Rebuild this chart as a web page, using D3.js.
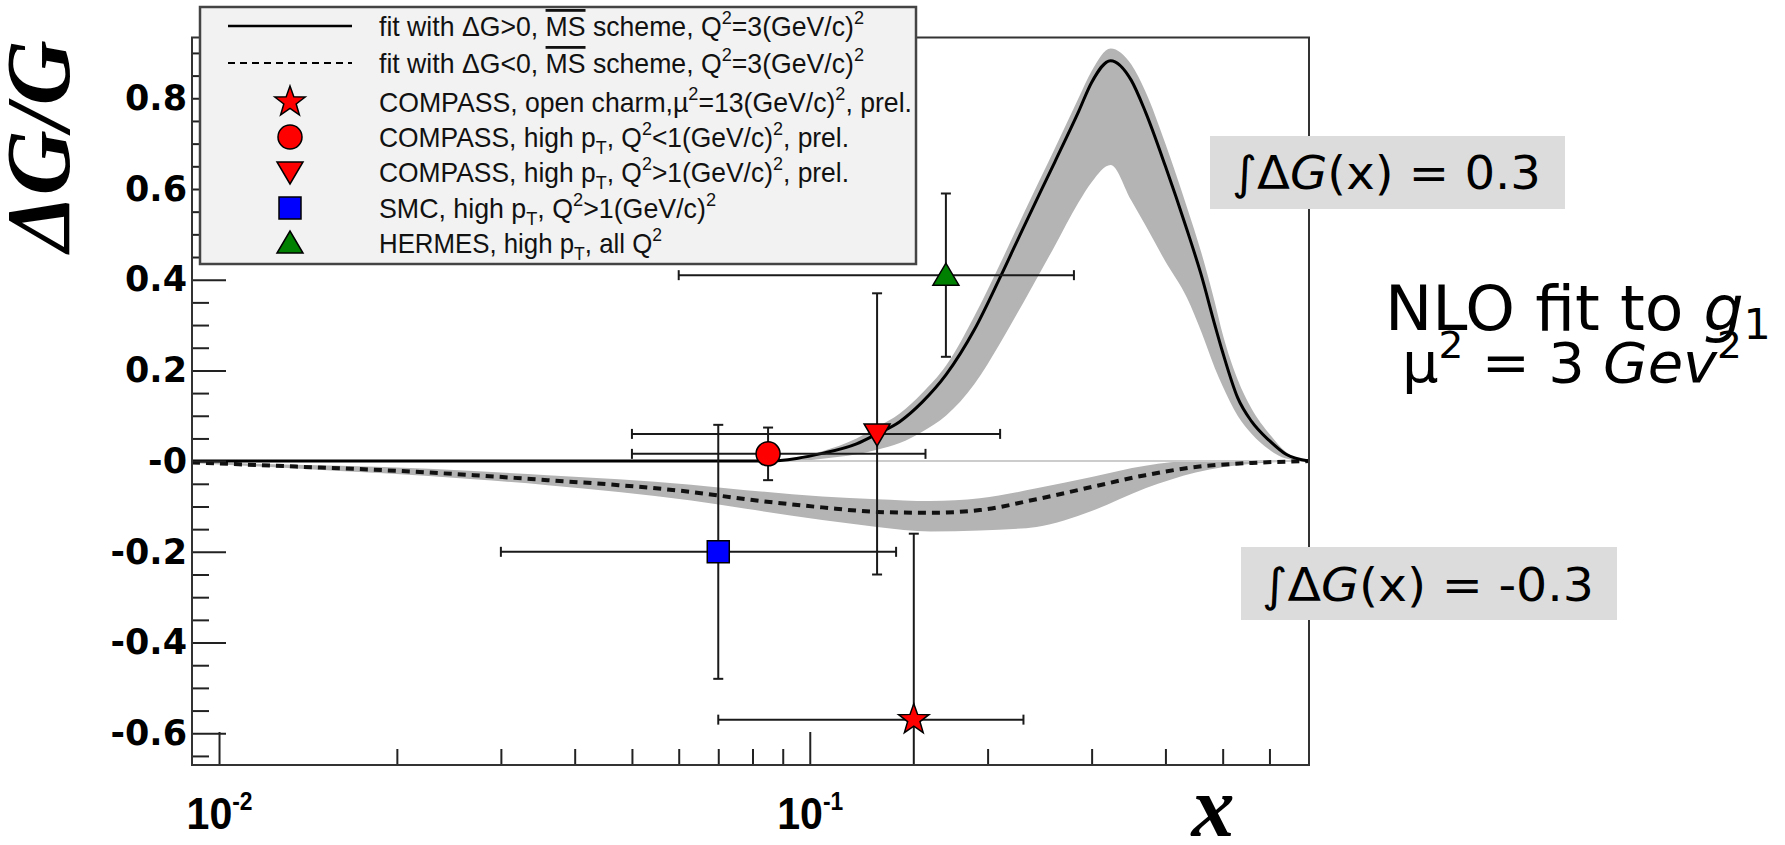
<!DOCTYPE html>
<html>
<head>
<meta charset="utf-8">
<script src="https://cdn.jsdelivr.net/npm/d3@7"></script>
<style>
  html, body { margin: 0; padding: 0; background: #fff; }
  svg { display: block; }
</style>
</head>
<body>
<div id="root"></div>
<script>
// fit with dG > 0 : central curve and band
const posX  = [0.009, 0.06, 0.085, 0.095, 0.105, 0.12, 0.13, 0.142, 0.155, 0.17, 0.19, 0.21, 0.23, 0.26, 0.285, 0.30, 0.323, 0.35, 0.37, 0.40, 0.435, 0.46, 0.485, 0.50, 0.53, 0.56, 0.60, 0.64, 0.70];
const posY  = [0, 0, 0, 0.006, 0.017, 0.038, 0.06, 0.087, 0.13, 0.19, 0.29, 0.405, 0.515, 0.66, 0.77, 0.835, 0.883, 0.84, 0.77, 0.65, 0.51, 0.41, 0.30, 0.24, 0.14, 0.087, 0.045, 0.015, 0];
const posLo = [0, 0, 0, 0, 0.005, 0.015, 0.025, 0.04, 0.065, 0.10, 0.17, 0.26, 0.35, 0.475, 0.57, 0.615, 0.653, 0.575, 0.52, 0.44, 0.36, 0.285, 0.205, 0.165, 0.10, 0.06, 0.025, 0.006, 0];
const posHi = [0, 0, 0, 0.008, 0.022, 0.05, 0.075, 0.105, 0.15, 0.21, 0.32, 0.435, 0.545, 0.69, 0.80, 0.86, 0.91, 0.875, 0.815, 0.70, 0.56, 0.46, 0.35, 0.28, 0.18, 0.115, 0.06, 0.02, 0];

// fit with dG < 0 : central curve and band
const negX  = [0.009, 0.0135, 0.019, 0.027, 0.036, 0.0475, 0.063, 0.078, 0.105, 0.13, 0.16, 0.194, 0.242, 0.30, 0.37, 0.45, 0.56, 0.70];
const negY  = [-0.003, -0.012, -0.02, -0.031, -0.042, -0.053, -0.068, -0.084, -0.102, -0.112, -0.114, -0.108, -0.084, -0.057, -0.031, -0.013, -0.004, 0];
const negLo = [-0.004, -0.016, -0.027, -0.04, -0.053, -0.068, -0.087, -0.105, -0.13, -0.145, -0.155, -0.153, -0.145, -0.11, -0.06, -0.025, -0.006, 0];
const negHi = [-0.002, -0.008, -0.013, -0.022, -0.031, -0.04, -0.052, -0.064, -0.078, -0.084, -0.088, -0.082, -0.06, -0.035, -0.01, 0, 0, 0];

// measurements
const pointShape = ["star", "circle", "tridown", "square", "triup"];
const pointX     = [0.15, 0.085, 0.13, 0.07, 0.17];
const pointY     = [-0.57, 0.016, 0.06, -0.20, 0.41];
const pointYErr  = [0.41, 0.058, 0.31, 0.28, 0.18];
const pointXLo   = [0.07, 0.05, 0.05, 0.03, 0.06];
const pointXHi   = [0.23, 0.157, 0.21, 0.14, 0.28];

// axes
const yMajor = [-0.6, -0.4, -0.2, 0, 0.2, 0.4, 0.6, 0.8];
const yTickLabels = ["-0.6", "-0.4", "-0.2", "-0", "0.2", "0.4", "0.6", "0.8"];
const yMinor = d3.range(-13, 19).map(k => k * 0.05).filter(v => Math.abs(v * 5 - Math.round(v * 5)) > 1e-6);
const xMajor = [0.01, 0.1];
const xTickExp = ["-2", "-1"];
const xMinor = [0.02, 0.03, 0.04, 0.05, 0.06, 0.07, 0.08, 0.09, 0.2, 0.3, 0.4, 0.5, 0.6];

// legend entries
const legendKinds = ["line", "dash", "star", "circle", "tridown", "square", "triup"];
const legendTexts = [
  [{t: "fit with \u0394G>0, "}, {t: "MS", over: true}, {t: " scheme, Q"}, {t: "2", sup: true}, {t: "=3(GeV/c)"}, {t: "2", sup: true}],
  [{t: "fit with \u0394G<0, "}, {t: "MS", over: true}, {t: " scheme, Q"}, {t: "2", sup: true}, {t: "=3(GeV/c)"}, {t: "2", sup: true}],
  [{t: "COMPASS, open charm,\u00b5"}, {t: "2", sup: true}, {t: "=13(GeV/c)"}, {t: "2", sup: true}, {t: ", prel."}],
  [{t: "COMPASS, high p"}, {t: "T", sub: true}, {t: ", Q"}, {t: "2", sup: true}, {t: "<1(GeV/c)"}, {t: "2", sup: true}, {t: ", prel."}],
  [{t: "COMPASS, high p"}, {t: "T", sub: true}, {t: ", Q"}, {t: "2", sup: true}, {t: ">1(GeV/c)"}, {t: "2", sup: true}, {t: ", prel."}],
  [{t: "SMC, high p"}, {t: "T", sub: true}, {t: ", Q"}, {t: "2", sup: true}, {t: ">1(GeV/c)"}, {t: "2", sup: true}],
  [{t: "HERMES, high p"}, {t: "T", sub: true}, {t: ", all Q"}, {t: "2", sup: true}]
];
const legendWidths = [485, 485, 533, 470, 470, 337, 283];

const W = 1785, H = 845;
const frame = {l: 192, r: 1309, t: 37.5, b: 765};

const svg = d3.select("#root").append("svg")
  .attr("width", W).attr("height", H)
  .attr("font-family", "'Liberation Sans', Arial, sans-serif");

const x = d3.scaleLog().domain([0.009, 0.7]).range([frame.l, frame.r]);
const y = d3.scaleLinear().domain([-0.67, 0.934]).range([frame.b, frame.t]);

svg.append("clipPath").attr("id", "plotclip")
  .append("rect")
  .attr("x", frame.l).attr("y", frame.t)
  .attr("width", frame.r - frame.l).attr("height", frame.b - frame.t);

const plot = svg.append("g").attr("clip-path", "url(#plotclip)");

const markerColor = {star: "#ff0000", circle: "#ff0000", tridown: "#ff0000", square: "#0000ff", triup: "#008000"};

function starPath(R, r) {
  const p = [];
  for (let k = 0; k < 10; k++) {
    const a = -Math.PI / 2 + k * Math.PI / 5;
    const rad = k % 2 ? r : R;
    p.push([rad * Math.cos(a), rad * Math.sin(a)]);
  }
  return "M" + p.map(q => q[0].toFixed(2) + "," + q[1].toFixed(2)).join("L") + "Z";
}
function markerPath(shape) {
  if (shape === "star") return starPath(16, 6.5);
  if (shape === "circle") return "M-12,0A12,12 0 1,0 12,0A12,12 0 1,0 -12,0Z";
  if (shape === "tridown") return "M-13,-10L13,-10L0,12Z";
  if (shape === "triup") return "M-13,10L13,10L0,-12Z";
  return "M-11,-11H11V11H-11Z";
}

// bands
const posData = posX.map((v, i) => ({x: v, y: posY[i], lo: posLo[i], hi: posHi[i]}));
const negData = negX.map((v, i) => ({x: v, y: negY[i], lo: negLo[i], hi: negHi[i]}));

const band = d3.area()
  .x(d => x(d.x)).y0(d => y(d.lo)).y1(d => y(d.hi))
  .curve(d3.curveMonotoneX);

plot.append("path").datum(negData).attr("d", band).attr("fill", "#b4b4b4");
plot.append("path").datum(posData).attr("d", band).attr("fill", "#b4b4b4");

// zero line
plot.append("line")
  .attr("x1", frame.l).attr("x2", frame.r)
  .attr("y1", y(0)).attr("y2", y(0))
  .attr("stroke", "#cccccc").attr("stroke-width", 2);

const curve = d3.line().x(d => x(d.x)).y(d => y(d.y)).curve(d3.curveMonotoneX);

plot.append("path").datum(negData).attr("d", curve)
  .attr("fill", "none").attr("stroke", "#111")
  .attr("stroke-width", 4).attr("stroke-dasharray", "8,6");

plot.append("path").datum(posData).attr("d", curve)
  .attr("fill", "none").attr("stroke", "#000").attr("stroke-width", 3);

// error bars
const pts = pointX.map((v, i) => ({
  shape: pointShape[i], x: v, y: pointY[i], ey: pointYErr[i], xlo: pointXLo[i], xhi: pointXHi[i]
}));

const eb = plot.append("g").attr("stroke", "#1a1a1a").attr("stroke-width", 2);
pts.forEach(p => {
  const cx = x(p.x), cy = y(p.y);
  const top = y(p.y + p.ey), bot = y(p.y - p.ey);
  const l = x(p.xlo), r = x(p.xhi);
  eb.append("line").attr("x1", cx).attr("x2", cx).attr("y1", top).attr("y2", bot);
  eb.append("line").attr("x1", cx - 5).attr("x2", cx + 5).attr("y1", top).attr("y2", top);
  eb.append("line").attr("x1", cx - 5).attr("x2", cx + 5).attr("y1", bot).attr("y2", bot);
  eb.append("line").attr("x1", l).attr("x2", r).attr("y1", cy).attr("y2", cy);
  eb.append("line").attr("x1", l).attr("x2", l).attr("y1", cy - 5).attr("y2", cy + 5);
  eb.append("line").attr("x1", r).attr("x2", r).attr("y1", cy - 5).attr("y2", cy + 5);
});

plot.selectAll("path.marker")
  .data(pts)
  .join("path")
  .attr("class", "marker")
  .attr("transform", d => `translate(${x(d.x)},${y(d.y)})`)
  .attr("d", d => markerPath(d.shape))
  .attr("fill", d => markerColor[d.shape])
  .attr("stroke", "#000").attr("stroke-width", 1.5);

// axes
const tickStyle = g => {
  g.select(".domain").remove();
  g.selectAll(".tick line").attr("stroke", "#222").attr("stroke-width", 2);
};

svg.append("g").attr("transform", `translate(${frame.l},0)`)
  .call(d3.axisRight(y).tickValues(yMinor).tickSize(17).tickFormat(""))
  .call(tickStyle);
svg.append("g").attr("transform", `translate(${frame.l},0)`)
  .call(d3.axisRight(y).tickValues(yMajor).tickSize(34).tickFormat(""))
  .call(tickStyle);

const yLab = svg.append("g").attr("transform", `translate(${frame.l},0)`)
  .call(d3.axisLeft(y).tickValues(yMajor).tickSize(0).tickPadding(5)
    .tickFormat((d, i) => yTickLabels[i]));
yLab.select(".domain").remove();
yLab.selectAll("text")
  .attr("font-family", "'DejaVu Sans', sans-serif")
  .attr("font-weight", "bold")
  .attr("font-size", 35)
  .attr("fill", "#000");

svg.append("g").attr("transform", `translate(0,${frame.b})`)
  .call(d3.axisTop(x).tickValues(xMinor).tickSize(16).tickFormat(""))
  .call(tickStyle);
svg.append("g").attr("transform", `translate(0,${frame.b})`)
  .call(d3.axisTop(x).tickValues(xMajor).tickSize(33).tickFormat(""))
  .call(tickStyle);

const xLab = svg.append("g").attr("transform", `translate(0,${frame.b})`)
  .call(d3.axisBottom(x).tickValues(xMajor).tickSize(0).tickFormat(""));
xLab.select(".domain").remove();
xLab.selectAll(".tick text").each(function (d, i) {
  const t = d3.select(this)
    .attr("y", 64).attr("dy", null)
    .attr("font-family", "'Liberation Sans', Arial, sans-serif")
    .attr("font-weight", "bold").attr("font-size", 45).attr("fill", "#000")
    .attr("textLength", 66).attr("lengthAdjust", "spacingAndGlyphs");
  t.append("tspan").text("10");
  t.append("tspan").attr("dy", -19).attr("font-size", 25).text(xTickExp[i]);
});

// frame
svg.append("rect")
  .attr("x", frame.l).attr("y", frame.t)
  .attr("width", frame.r - frame.l).attr("height", frame.b - frame.t)
  .attr("fill", "none").attr("stroke", "#333").attr("stroke-width", 2);

// axis titles
svg.append("text")
  .attr("transform", "translate(69,146) rotate(-90)")
  .attr("text-anchor", "middle")
  .attr("font-family", "'Liberation Serif', 'Times New Roman', serif")
  .attr("font-weight", "bold").attr("font-style", "italic")
  .attr("font-size", 90)
  .text("\u0394G/G");

svg.append("text")
  .attr("x", 1213).attr("y", 836)
  .attr("text-anchor", "middle")
  .attr("font-family", "'Liberation Serif', 'Times New Roman', serif")
  .attr("font-weight", "bold").attr("font-style", "italic")
  .attr("font-size", 86)
  .text("x");

// rich text helper
function richText(sel, parts, size, subShift) {
  let shift = 0;
  parts.forEach(p => {
    const target = p.sup ? -0.42 * size : p.sub ? (subShift || 0.28) * size : 0;
    const ts = sel.append("tspan").attr("dy", target - shift).text(p.t);
    shift = target;
    if (p.sup || p.sub) ts.attr("font-size", size * 0.68);
    if (p.over) ts.style("text-decoration", "overline");
    if (p.it) ts.attr("font-style", "italic");
  });
}

// legend
const legend = svg.append("g");
legend.append("rect")
  .attr("x", 200).attr("y", 7).attr("width", 716).attr("height", 257)
  .attr("fill", "#f2f2f2").attr("stroke", "#444").attr("stroke-width", 2.5);

const rowY = [26, 63, 102, 137, 172, 208, 243];
legendKinds.forEach((k, i) => {
  if (k === "line" || k === "dash") {
    legend.append("line")
      .attr("x1", 228).attr("x2", 352).attr("y1", rowY[i]).attr("y2", rowY[i])
      .attr("stroke", "#000").attr("stroke-width", k === "line" ? 2.5 : 2)
      .attr("stroke-dasharray", k === "dash" ? "7,5" : null);
  } else {
    legend.append("path")
      .attr("transform", `translate(290,${rowY[i]})`)
      .attr("d", markerPath(k))
      .attr("fill", markerColor[k])
      .attr("stroke", "#000").attr("stroke-width", 1.5);
  }
  const t = legend.append("text")
    .attr("x", 379).attr("y", rowY[i] + 10)
    .attr("font-size", 28).attr("fill", "#111")
    .attr("textLength", legendWidths[i])
    .attr("lengthAdjust", "spacingAndGlyphs");
  richText(t, legendTexts[i], 28, 0.24);
});

// annotations
const noteFont = "'DejaVu Sans', sans-serif";
svg.append("rect").attr("x", 1210).attr("y", 136).attr("width", 355).attr("height", 73).attr("fill", "#dcdcdc");
svg.append("rect").attr("x", 1241).attr("y", 547).attr("width", 376).attr("height", 73).attr("fill", "#dcdcdc");

const n1 = svg.append("text").attr("x", 1232).attr("y", 189)
  .attr("font-family", noteFont).attr("font-size", 46)
  .attr("textLength", 309).attr("lengthAdjust", "spacingAndGlyphs");
richText(n1, [{t: "\u222b\u0394"}, {t: "G", it: true}, {t: "(x) = 0.3"}], 46);

const n2 = svg.append("text").attr("x", 1262).attr("y", 601)
  .attr("font-family", noteFont).attr("font-size", 46)
  .attr("textLength", 332).attr("lengthAdjust", "spacingAndGlyphs");
richText(n2, [{t: "\u222b\u0394"}, {t: "G", it: true}, {t: "(x) = -0.3"}], 46);

const n3 = svg.append("text").attr("x", 1385).attr("y", 330)
  .attr("font-family", noteFont).attr("font-size", 62)
  .attr("textLength", 386).attr("lengthAdjust", "spacingAndGlyphs");
richText(n3, [{t: "NLO fit to "}, {t: "g", it: true}, {t: "1", sub: true}], 62, 0.14);

const n4 = svg.append("text").attr("x", 1402).attr("y", 382)
  .attr("font-family", noteFont).attr("font-size", 56)
  .attr("textLength", 340).attr("lengthAdjust", "spacingAndGlyphs");
richText(n4, [{t: "\u00b5"}, {t: "2", sup: true}, {t: " = 3 "}, {t: "Gev", it: true}, {t: "2", sup: true}], 56);
</script>
</body>
</html>
